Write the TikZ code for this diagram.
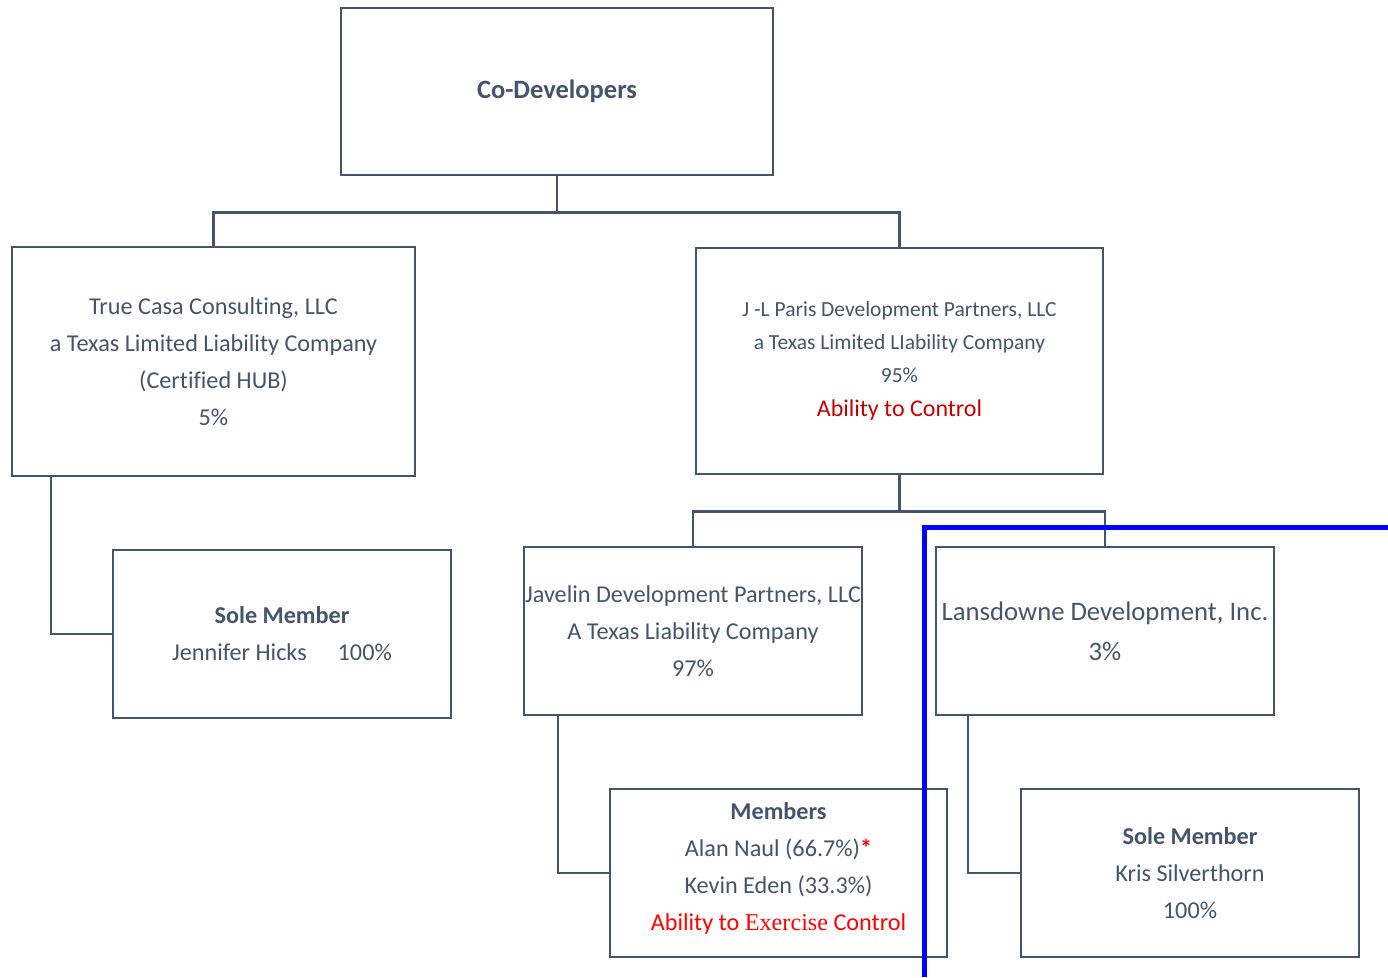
\documentclass[tikz,border=0pt]{standalone}
\usepackage{fontspec}
\setmainfont[Ligatures=NoCommon]{Carlito}
\newfontfamily\exfont{Liberation Serif}
\definecolor{slate}{HTML}{44546A}
\definecolor{ctrlred}{HTML}{C00000}
\begin{document}
\begin{tikzpicture}[x=1pt, y=-1pt,
	box/.style = {shape=rectangle, draw=slate, line width=2.5pt,
		text=slate, align=center, inner sep=0pt,
		minimum width=338pt, minimum height=168pt,
		font=\fontsize{24.2}{37}\selectfont},
	link/.style = {draw=slate, line width=2.5pt}]
	\useasboundingbox (0,0) rectangle (1388,977);
	% top level
	\node[box, minimum width=432pt, minimum height=167pt,
		font=\fontsize{26.5}{32}\selectfont] (codev) at (557,91.5)
		{\textbf{Co-Developers}};
	\node[box, minimum width=403pt, minimum height=229pt] (truecasa) at (213.5,361.5)
		{True Casa Consulting, LLC
		\\a Texas Limited Liability Company
		\\(Certified HUB)
		\\5\%};
	\node[box, minimum width=407pt, minimum height=226pt,
		font=\fontsize{21.5}{33}\selectfont] (jlparis) at (899.5,361)
		{J -L Paris Development Partners, LLC
		\\a Texas Limited LIability Company
		\\95\%
		\\[1pt]{\fontsize{24}{27}\selectfont\color{ctrlred}Ability to Control}};
	% second level
	\node[box] (jennifer) at (282,634)
		{\textbf{Sole Member}
		\\Jennifer Hicks\hspace{31pt}100\%};
	\node[box] (javelin) at (693,631)
		{Javelin Development Partners, LLC
		\\A Texas Liability Company
		\\97\%};
	\node[box, font=\fontsize{26.7}{40}\selectfont] (lansdowne) at (1105,631)
		{Lansdowne Development, Inc.
		\\3\%};
	% third level
	\node[box, minimum width=337pt] (members) at (778.5,873)
		{\textbf{Members}
		\\Alan Naul (66.7\%){\color{red}\bfseries*}
		\\Kevin Eden (33.3\%)
		\\{\color{red}Ability to {\exfont Exercise} Control}
		\\[-23pt]\mbox{}};
	\node[box] (kris) at (1190,873)
		{\textbf{Sole Member}
		\\Kris Silverthorn
		\\100\%};
	% connectors
	\draw[link] (codev.south) -- ++(0,36) -| (truecasa.north);
	\draw[link] (codev.south) ++(0,36) -| (jlparis.north);
	\draw[link] ([xshift=40pt]truecasa.south west) |- (jennifer.west);
	\draw[link] (jlparis.south) -- ++(0,36) -| (javelin.north);
	\draw[link] (jlparis.south) ++(0,36) -| (lansdowne.north);
	\draw[link] ([xshift=35pt]javelin.south west) |- (members.west);
	\draw[link] ([xshift=33pt]lansdowne.south west) |- (kris.west);
	% blue marker
	\draw[blue, line width=5pt] (924,977) |- (1388,527);
\end{tikzpicture}
\end{document}
